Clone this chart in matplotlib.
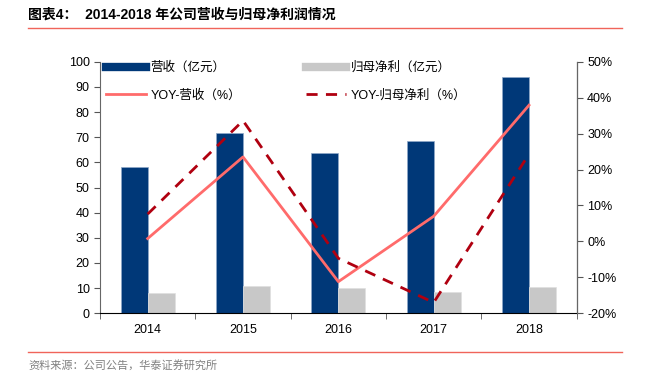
import numpy as np
import matplotlib.pyplot as plt
from matplotlib.lines import Line2D

plt.rcParams['font.family'] = ['Liberation Sans', 'Noto Sans CJK SC']

### data
years = ['2014', '2015', '2016', '2017', '2018']
revenue = [58.2, 71.8, 63.9, 68.3, 93.9]          # 营收（亿元）
net_profit = [7.9, 10.7, 10.2, 8.5, 10.4]          # 归母净利（亿元）
yoy_revenue = [0.8, 23.5, -11.2, 7.0, 37.9]        # YOY-营收（%）
yoy_profit = [7.6, 33.6, -4.7, -17.0, 24.3]        # YOY-归母净利（%）

navy = '#003878'
grey = '#C8C8C8'
salmon = '#FF6B6B'
darkred = '#B00010'

fig = plt.figure(figsize=(6.47, 3.73), dpi=100)
ax = fig.add_axes([100/647, 1-313.3/373, 476.7/647, 251.6/373])
ax2 = ax.twinx()

x = np.arange(len(years))
w = 0.283
ax.bar(x - w/2, revenue, w, color=navy, edgecolor='#8FA8C8', linewidth=0.5, zorder=2)
ax.bar(x + w/2, net_profit, w, color=grey, edgecolor='#E0E0E0', linewidth=0.5, zorder=2)

ax2.plot(x, yoy_revenue, color=salmon, lw=2)
ax2.plot(x, yoy_profit, color=darkred, lw=2, ls=(0, (4, 3)))

ax.set_xlim(-0.5, len(years) - 0.5)
ax.set_ylim(0, 100)
ax.set_yticks(range(0, 101, 10))
ax2.set_ylim(-20, 50)
ax2.set_yticks(range(-20, 51, 10))
ax2.set_yticklabels([f'{v}%' for v in range(-20, 51, 10)])

ax.set_xticks(x)
ax.set_xticklabels(years)
ax.set_xticks(np.arange(-0.5, len(years)), minor=True)
ax.tick_params(axis='x', which='major', length=0, pad=8, labelsize=9)
ax.tick_params(axis='x', which='minor', length=4, direction='out', color='#555555')
ax.tick_params(axis='y', length=4, direction='out', labelsize=9, color='#555555')
ax2.tick_params(axis='y', length=4, direction='out', labelsize=9, color='#555555')

for a in (ax, ax2):
    a.spines['top'].set_visible(False)
ax.spines['left'].set_color('#666666')
ax2.spines['right'].set_color('#666666')
ax2.spines['left'].set_visible(False)
ax.spines['bottom'].set_color('black')
ax2.spines['bottom'].set_visible(False)

# legend filled column by column, so order gives rows: navy/grey, salmon/darkred
handles = [
    Line2D([], [], color=navy, lw=6),
    Line2D([], [], color=salmon, lw=2),
    Line2D([], [], color=grey, lw=6),
    Line2D([], [], color=darkred, lw=2, ls=(0, (4, 3))),
]
labels = ['营收（亿元）', 'YOY-营收（%）', '归母净利（亿元）', 'YOY-归母净利（%）']
ax2.legend(handles, labels, ncol=2, loc='upper left', bbox_to_anchor=(-0.012, 1.045),
           frameon=False, fontsize=9, handlelength=3.2, handletextpad=0.4,
           columnspacing=5.2, labelspacing=1.2)

fig.text(28/647, 1-15/373, '图表4：  2014-2018 年公司营收与归母净利润情况',
         fontsize=10, fontweight='bold', va='center', ha='left')
fig.add_artist(Line2D([28/647, 622/647], [1-28/373, 1-28/373], color='#F0645A', lw=1))
fig.add_artist(Line2D([28/647, 622/647], [1-352/373, 1-352/373], color='#F0645A', lw=1))
fig.text(28/647, 1-365/373, '资料来源：公司公告，华泰证券研究所',
         fontsize=8, color='#808080', va='center', ha='left')

fig.savefig('out.png', dpi=100)
